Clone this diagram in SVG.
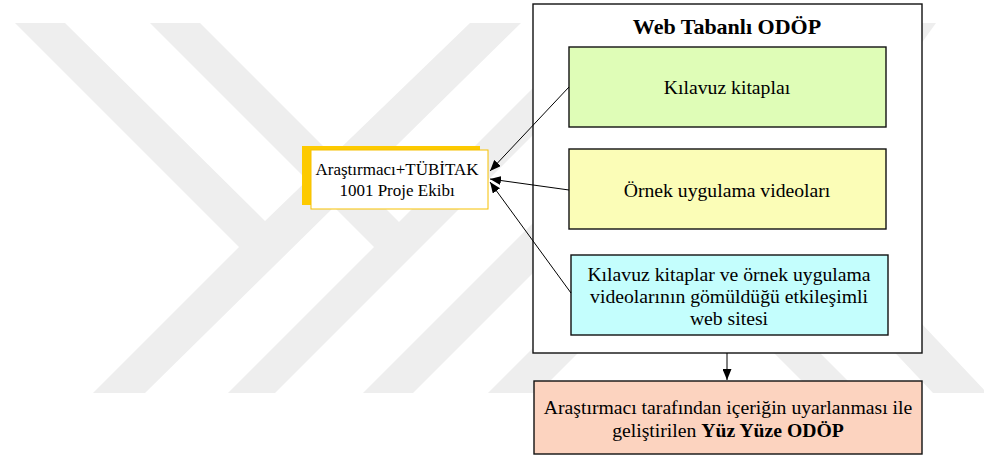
<svg xmlns="http://www.w3.org/2000/svg" width="984" height="459" viewBox="0 0 984 459">
<defs>
<marker id="ah" markerWidth="11" markerHeight="9" refX="11" refY="4.5" orient="auto" markerUnits="userSpaceOnUse">
<path d="M0,0 L11,4.5 L0,9 Z" fill="#000"/>
</marker>
<style>
.t{font-family:"Liberation Serif","Times New Roman",serif;font-size:19.7px;fill:#000;text-anchor:middle}
.b{font-weight:bold}
.ttl{font-size:22px;font-weight:bold}
.tm{font-size:17px}
.box{stroke:#111;stroke-width:1.4}
.c{stroke:#000;stroke-width:1;fill:none;marker-end:url(#ah)}
.wm{fill:#eeeeee}
</style>
</defs>
<rect width="984" height="459" fill="#fff"/>
<g id="watermark">
<polygon class="wm" points="15,23 65,23 265,221 470,23 521,23 145,393 93,393 239,247"/>
<polygon class="wm" points="150,23 200,23 399,222 598,23 645,23 275,393 228,393 374,247"/>
<polygon class="wm" points="733,23 783,23 413,393 363,393"/>
<polygon class="wm" points="858,23 908,23 538,393 488,393"/>
<polygon class="wm" points="600,179 646,179 860,393 814,393"/>
<polygon class="wm" points="700,146 754,146 987,393 933,393"/>
<polygon class="wm" points="886,23 936,23 900,73 850,73"/>
</g>
<g id="web">
<rect class="box" x="533" y="4" width="389" height="349" fill="#fff"/>
<text class="t ttl" x="727" y="34">Web Tabanlı ODÖP</text>
</g>
<g id="n1">
<rect class="box" x="569" y="47" width="317" height="80" fill="#dffdb7"/>
<text class="t" x="727" y="94">Kılavuz kitaplaı</text>
</g>
<g id="n2">
<rect class="box" x="569" y="149" width="317" height="80" fill="#fbfdb7"/>
<text class="t" x="727" y="197">Örnek uygulama videoları</text>
</g>
<g id="n3">
<rect class="box" x="571" y="255" width="317" height="80" fill="#c4fefd"/>
<text class="t" x="729" y="281">Kılavuz kitaplar ve örnek uygulama</text>
<text class="t" x="729" y="303">videolarının gömüldüğü etkileşimli</text>
<text class="t" x="729" y="325">web sitesi</text>
</g>
<g id="n4">
<rect class="box" x="534" y="381" width="388" height="73" fill="#fcd3bf"/>
<text class="t" x="728" y="414">Araştırmacı tarafından içeriğin uyarlanması ile</text>
<text class="t" x="728" y="437">geliştirilen <tspan class="b">Yüz Yüze ODÖP</tspan></text>
</g>
<g id="team">
<rect x="302" y="146" width="178" height="59" fill="#fdca00"/>
<rect x="311" y="150" width="177" height="59" fill="#fff" stroke="#f6c000" stroke-width="1"/>
<text class="t tm" x="397" y="175">Araştırmacı+TÜBİTAK</text>
<text class="t tm" x="397" y="196">1001 Proje Ekibı</text>
</g>
<g id="connectors">
<line class="c" x1="569" y1="87" x2="490" y2="171"/>
<line class="c" x1="569" y1="190" x2="490" y2="179"/>
<line class="c" x1="571" y1="293" x2="490" y2="182"/>
<line class="c" x1="727" y1="353" x2="727" y2="380"/>
</g>
</svg>
